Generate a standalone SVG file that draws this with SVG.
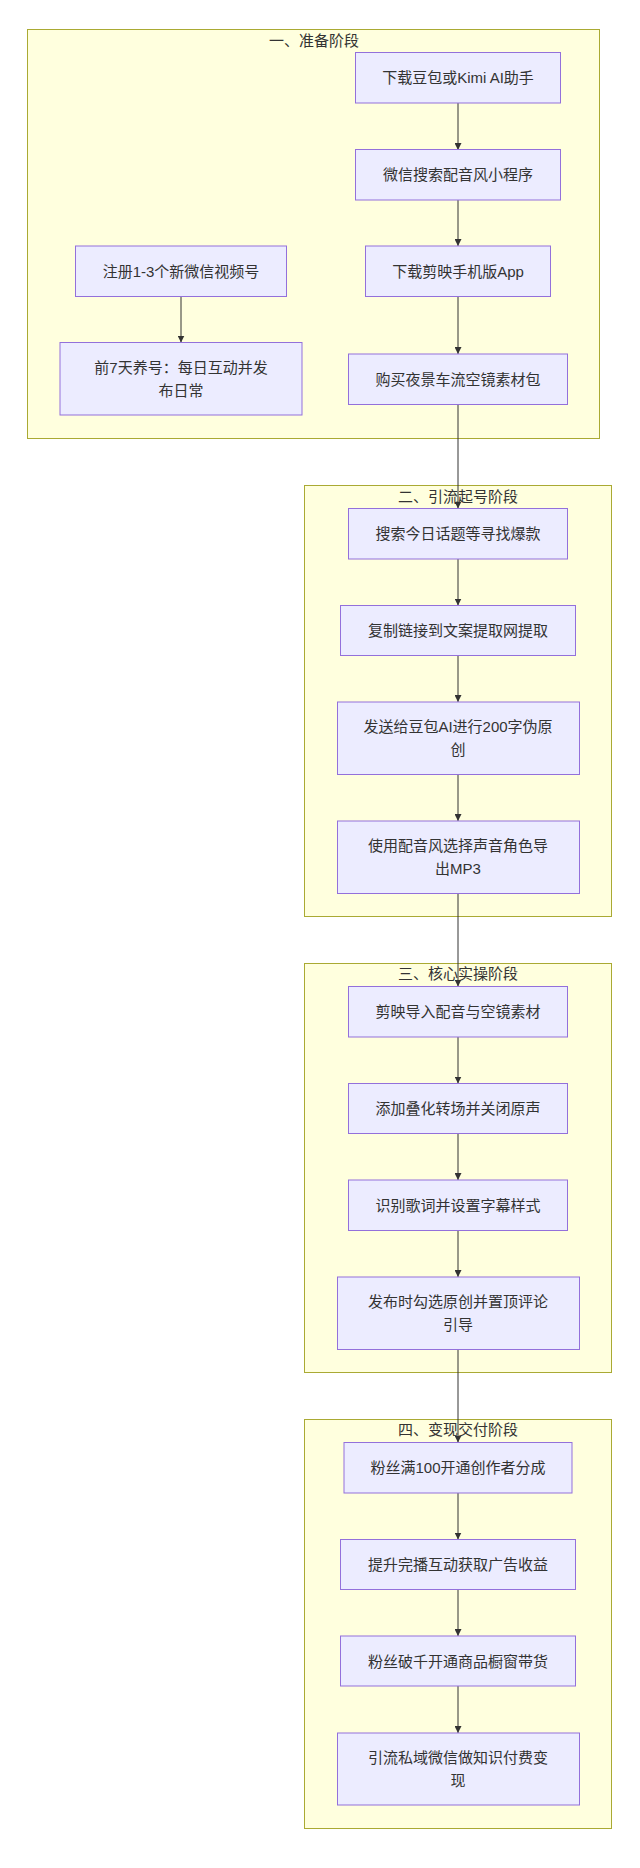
<svg xmlns="http://www.w3.org/2000/svg" width="640" height="1868" viewBox="0 0 640 1868">
<style>
.cl{fill:#ffffde;stroke:#aaaa33;stroke-width:1}
.nd{fill:#ececff;stroke:#9370db;stroke-width:1}
.t{font-family:"Liberation Sans","Noto Sans CJK SC",sans-serif;font-size:15px;fill:#333;text-anchor:middle;dominant-baseline:central}
.e{stroke:#333;stroke-width:1;fill:none;marker-end:url(#ah)}
</style>
<defs>
<marker id="ah" viewBox="0 0 10 10" refX="10" refY="5" markerWidth="7" markerHeight="7" markerUnits="userSpaceOnUse" orient="auto">
<path d="M0,0 L10,5 L0,10 z" fill="#333"/>
</marker>
</defs>
<rect width="640" height="1868" fill="#fff"/>
<g id="clusters">
<g id="c1"><rect class="cl" x="27.5" y="29.5" width="572" height="409"/><text class="t" x="314" y="40">一、准备阶段</text></g>
<g id="c2"><rect class="cl" x="304.5" y="485.5" width="307" height="431"/><text class="t" x="458" y="496">二、引流起号阶段</text></g>
<g id="c3"><rect class="cl" x="304.5" y="963.5" width="307" height="409"/><text class="t" x="458" y="973.5">三、核心实操阶段</text></g>
<g id="c4"><rect class="cl" x="304.5" y="1419.5" width="307" height="409"/><text class="t" x="458" y="1429.5">四、变现交付阶段</text></g>
</g>
<g id="edges">
<path class="e" d="M458,103 V150"/>
<path class="e" d="M458,200 V246"/>
<path class="e" d="M458,296.5 V354"/>
<path class="e" d="M458,404.5 V508.5"/>
<path class="e" d="M181,296.5 V342.5"/>
<path class="e" d="M458,559 V605.5"/>
<path class="e" d="M458,655.5 V702"/>
<path class="e" d="M458,774.5 V821"/>
<path class="e" d="M458,893.5 V986.5"/>
<path class="e" d="M458,1037 V1083.5"/>
<path class="e" d="M458,1133.5 V1180"/>
<path class="e" d="M458,1230.5 V1277"/>
<path class="e" d="M458,1349.5 V1442.5"/>
<path class="e" d="M458,1493 V1539.5"/>
<path class="e" d="M458,1589.5 V1636"/>
<path class="e" d="M458,1686 V1733"/>
</g>
<g id="nA"><rect class="nd" x="355.5" y="52.5" width="205" height="50.5"/><text class="t" x="458" y="77.8">下载豆包或Kimi AI助手</text></g>
<g id="nB"><rect class="nd" x="355.5" y="149.5" width="205" height="50.5"/><text class="t" x="458" y="174.8">微信搜索配音风小程序</text></g>
<g id="nC"><rect class="nd" x="365.5" y="246" width="185" height="50.5"/><text class="t" x="458" y="271.3">下载剪映手机版App</text></g>
<g id="nD"><rect class="nd" x="348.5" y="354" width="219" height="50.5"/><text class="t" x="458" y="379.3">购买夜景车流空镜素材包</text></g>
<g id="nE"><rect class="nd" x="75.5" y="246" width="211" height="50.5"/><text class="t" x="181" y="271.3">注册1-3个新微信视频号</text></g>
<g id="nF"><rect class="nd" x="60" y="342.5" width="242" height="72.5"/><text class="t" x="181" y="367.3">前7天养号：每日互动并发</text><text class="t" x="181" y="390.3">布日常</text></g>
<g id="nG"><rect class="nd" x="348.5" y="508.5" width="219" height="50.5"/><text class="t" x="458" y="533.8">搜索今日话题等寻找爆款</text></g>
<g id="nH"><rect class="nd" x="340.5" y="605.5" width="235" height="50"/><text class="t" x="458" y="630.5">复制链接到文案提取网提取</text></g>
<g id="nI"><rect class="nd" x="337.5" y="702" width="242" height="72.5"/><text class="t" x="458" y="726.5">发送给豆包AI进行200字伪原</text><text class="t" x="458" y="749.5">创</text></g>
<g id="nJ"><rect class="nd" x="337.5" y="821" width="242" height="72.5"/><text class="t" x="458" y="845.5">使用配音风选择声音角色导</text><text class="t" x="458" y="868.5">出MP3</text></g>
<g id="nK"><rect class="nd" x="348.5" y="986.5" width="219" height="50.5"/><text class="t" x="458" y="1011.8">剪映导入配音与空镜素材</text></g>
<g id="nL"><rect class="nd" x="348.5" y="1083.5" width="219" height="50"/><text class="t" x="458" y="1108.5">添加叠化转场并关闭原声</text></g>
<g id="nM"><rect class="nd" x="348.5" y="1180" width="219" height="50.5"/><text class="t" x="458" y="1205.3">识别歌词并设置字幕样式</text></g>
<g id="nN"><rect class="nd" x="337.5" y="1277" width="242" height="72.5"/><text class="t" x="458" y="1301.5">发布时勾选原创并置顶评论</text><text class="t" x="458" y="1324.5">引导</text></g>
<g id="nO"><rect class="nd" x="344" y="1442.5" width="228" height="50.5"/><text class="t" x="458" y="1467.8">粉丝满100开通创作者分成</text></g>
<g id="nP"><rect class="nd" x="340.5" y="1539.5" width="235" height="50"/><text class="t" x="458" y="1564.5">提升完播互动获取广告收益</text></g>
<g id="nQ"><rect class="nd" x="340.5" y="1636" width="235" height="50"/><text class="t" x="458" y="1661">粉丝破千开通商品橱窗带货</text></g>
<g id="nR"><rect class="nd" x="337.5" y="1733" width="242" height="72"/><text class="t" x="458" y="1757.5">引流私域微信做知识付费变</text><text class="t" x="458" y="1780.5">现</text></g>
</svg>
